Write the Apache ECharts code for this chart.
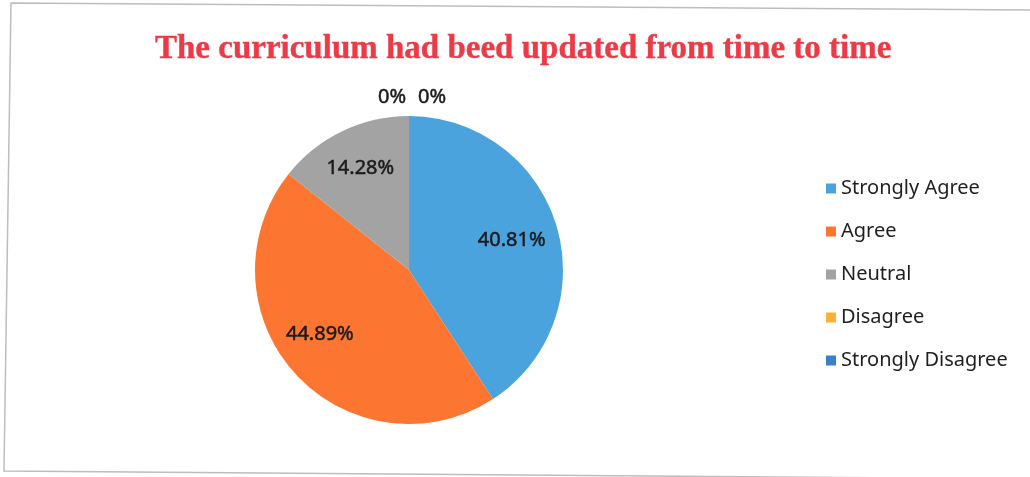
<!DOCTYPE html>
<html>
<head>
<meta charset="utf-8">
<script src="https://cdn.jsdelivr.net/npm/echarts@6/dist/echarts.min.js"></script>
<style>html,body{margin:0;padding:0;background:#fff}#c{width:1030px;height:477px}</style>
</head>
<body>
<div id="c"></div>
<script>
const titleText = 'The curriculum had beed updated from time to time';
const categories = ['Strongly Agree', 'Agree', 'Neutral', 'Disagree', 'Strongly Disagree'];
const values = [40.81, 44.89, 14.28, 0, 0];
const labels = ['40.81%', '44.89%', '14.28%', '0%', '0%'];
const colors = ['#4ba3dd', '#fd7631', '#a3a3a3', '#fbb133', '#3b7fcc'];

const chart = echarts.init(document.getElementById('c'));
const center = [409, 270];
const R = 154;
const labelFont = {fontFamily: 'Noto Sans', fontSize: 20, color: '#1a1a1a', textBorderColor: '#1a1a1a', textBorderWidth: 0.5};

const mainData = categories.map((n, i) => ({
  name: n, value: values[i], itemStyle: {color: colors[i]},
  label: {show: values[i] === 0}
}));
const overlayData = categories.map((n, i) => ({
  name: n, value: values[i], itemStyle: {color: 'rgba(0,0,0,0)'},
  label: {show: values[i] !== 0}
}));

chart.setOption({
  animation: false,
  backgroundColor: '#fff',
  title: {
    text: titleText, left: 150, top: 28,
    textStyle: {fontFamily: 'Liberation Serif', fontWeight: 'bold', fontSize: 33, color: '#ec3a47', textBorderColor: '#ec3a47', textBorderWidth: 0.4}
  },
  legend: {
    orient: 'vertical', left: 821, top: 172, itemGap: 20,
    itemWidth: 10, itemHeight: 10, icon: 'rect',
    data: categories.map((n, i) => ({name: n, itemStyle: {color: colors[i]}})),
    textStyle: {fontFamily: 'Noto Sans', fontSize: 20, color: '#1e1e1e', lineHeight: 23}
  },
  graphic: [{
    type: 'polygon', silent: true,
    shape: {points: [[11, 3], [1036, 10], [1036, 479], [4, 471]]},
    style: {fill: null, stroke: '#bdbdbd', lineWidth: 1.5}
  }],
  series: [{
    type: 'pie', center: center, radius: [0, R], startAngle: 90, clockwise: true,
    avoidLabelOverlap: false, minAngle: 0, stillShowZeroSum: true,
    data: mainData,
    label: Object.assign({position: 'outside', formatter: p => labels[p.dataIndex], distanceToLabelLine: 0}, labelFont),
    labelLine: {show: false, length: 19, length2: 0},
    labelLayout: p => {
      if (p.dataIndex === 3) return {x: 392, align: 'center'};
      if (p.dataIndex === 4) return {x: 432, align: 'center'};
      return {};
    },
    emphasis: {disabled: true}
  }, {
    type: 'pie', center: center, radius: [R * 0.42, R], startAngle: 90, clockwise: true,
    silent: true, avoidLabelOverlap: false,
    data: overlayData,
    label: Object.assign({position: 'inside', formatter: p => labels[p.dataIndex]}, labelFont),
    labelLine: {show: false},
    labelLayout: p => {
      if (p.dataIndex === 1) return {dx: -6, dy: -11};
      if (p.dataIndex === 0) return {dx: -5, dy: 2};
      return {};
    },
    emphasis: {disabled: true}
  }]
});
</script>
</body>
</html>
